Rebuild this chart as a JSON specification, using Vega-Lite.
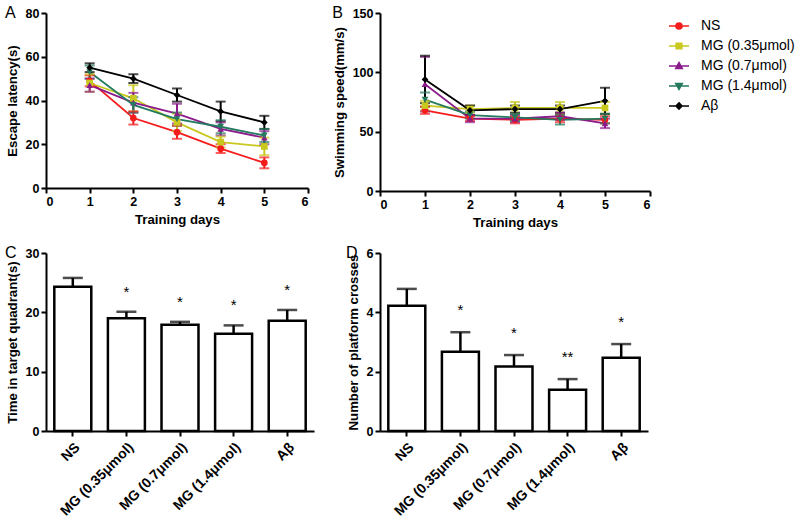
{
  "$schema": "https://vega.github.io/schema/vega-lite/v6.json",
  "background": "white",
  "padding": {"left": 5, "top": 5, "right": 5, "bottom": 5},
  "datasets": {
    "lat": [
      {"group": "NS", "day": 1, "mean": 49, "sem": 2.5},
      {"group": "NS", "day": 2, "mean": 32, "sem": 3},
      {"group": "NS", "day": 3, "mean": 25.5, "sem": 3},
      {"group": "NS", "day": 4, "mean": 18, "sem": 2},
      {"group": "NS", "day": 5, "mean": 11.5, "sem": 2.5},
      {"group": "MG (0.35μmol)", "day": 1, "mean": 48, "sem": 4},
      {"group": "MG (0.35μmol)", "day": 2, "mean": 41, "sem": 6},
      {"group": "MG (0.35μmol)", "day": 3, "mean": 30, "sem": 4},
      {"group": "MG (0.35μmol)", "day": 4, "mean": 21, "sem": 2.5},
      {"group": "MG (0.35μmol)", "day": 5, "mean": 19, "sem": 4},
      {"group": "MG (0.7μmol)", "day": 1, "mean": 47, "sem": 3},
      {"group": "MG (0.7μmol)", "day": 2, "mean": 39, "sem": 4.5},
      {"group": "MG (0.7μmol)", "day": 3, "mean": 34, "sem": 4.5},
      {"group": "MG (0.7μmol)", "day": 4, "mean": 27, "sem": 3},
      {"group": "MG (0.7μmol)", "day": 5, "mean": 23, "sem": 3},
      {"group": "MG (1.4μmol)", "day": 1, "mean": 53, "sem": 3},
      {"group": "MG (1.4μmol)", "day": 2, "mean": 38, "sem": 3.5},
      {"group": "MG (1.4μmol)", "day": 3, "mean": 31.5, "sem": 3},
      {"group": "MG (1.4μmol)", "day": 4, "mean": 28, "sem": 3},
      {"group": "MG (1.4μmol)", "day": 5, "mean": 24, "sem": 3},
      {"group": "Aβ", "day": 1, "mean": 55, "sem": 2},
      {"group": "Aβ", "day": 2, "mean": 50, "sem": 2},
      {"group": "Aβ", "day": 3, "mean": 42.5, "sem": 3},
      {"group": "Aβ", "day": 4, "mean": 35, "sem": 4.5},
      {"group": "Aβ", "day": 5, "mean": 30, "sem": 3}
    ],
    "spd": [
      {"group": "NS", "day": 1, "mean": 68, "sem": 3},
      {"group": "NS", "day": 2, "mean": 61, "sem": 2},
      {"group": "NS", "day": 3, "mean": 60, "sem": 3},
      {"group": "NS", "day": 4, "mean": 61, "sem": 3},
      {"group": "NS", "day": 5, "mean": 60, "sem": 3},
      {"group": "MG (0.35μmol)", "day": 1, "mean": 72, "sem": 4},
      {"group": "MG (0.35μmol)", "day": 2, "mean": 69, "sem": 3},
      {"group": "MG (0.35μmol)", "day": 3, "mean": 70, "sem": 5},
      {"group": "MG (0.35μmol)", "day": 4, "mean": 70, "sem": 5},
      {"group": "MG (0.35μmol)", "day": 5, "mean": 70, "sem": 5},
      {"group": "MG (0.7μmol)", "day": 1, "mean": 90, "sem": 23},
      {"group": "MG (0.7μmol)", "day": 2, "mean": 61, "sem": 3},
      {"group": "MG (0.7μmol)", "day": 3, "mean": 61, "sem": 3},
      {"group": "MG (0.7μmol)", "day": 4, "mean": 63, "sem": 3},
      {"group": "MG (0.7μmol)", "day": 5, "mean": 57, "sem": 4},
      {"group": "MG (1.4μmol)", "day": 1, "mean": 77, "sem": 6},
      {"group": "MG (1.4μmol)", "day": 2, "mean": 64, "sem": 3},
      {"group": "MG (1.4μmol)", "day": 3, "mean": 62, "sem": 3},
      {"group": "MG (1.4μmol)", "day": 4, "mean": 60, "sem": 4},
      {"group": "MG (1.4μmol)", "day": 5, "mean": 61, "sem": 4},
      {"group": "Aβ", "day": 1, "mean": 94, "sem": 20},
      {"group": "Aβ", "day": 2, "mean": 68, "sem": 4},
      {"group": "Aβ", "day": 3, "mean": 69, "sem": 3},
      {"group": "Aβ", "day": 4, "mean": 69, "sem": 3},
      {"group": "Aβ", "day": 5, "mean": 76, "sem": 11}
    ],
    "time": [
      {"group": "NS", "mean": 24.3, "sem": 1.5, "sig": ""},
      {"group": "MG (0.35μmol)", "mean": 19.0, "sem": 1.1, "sig": "*"},
      {"group": "MG (0.7μmol)", "mean": 17.9, "sem": 0.5, "sig": "*"},
      {"group": "MG (1.4μmol)", "mean": 16.4, "sem": 1.4, "sig": "*"},
      {"group": "Aβ", "mean": 18.6, "sem": 1.8, "sig": "*"}
    ],
    "cross": [
      {"group": "NS", "mean": 4.22, "sem": 0.57, "sig": ""},
      {"group": "MG (0.35μmol)", "mean": 2.67, "sem": 0.66, "sig": "*"},
      {"group": "MG (0.7μmol)", "mean": 2.17, "sem": 0.39, "sig": "*"},
      {"group": "MG (1.4μmol)", "mean": 1.39, "sem": 0.36, "sig": "**"},
      {"group": "Aβ", "mean": 2.47, "sem": 0.46, "sig": "*"}
    ]
  },
  "columns": 2,
  "bounds": "flush",
  "spacing": {"column": 66, "row": 62},
  "concat": [
    {
      "width": 262, "height": 175,
      "title": {"text": "A"},
      "data": {"name": "lat"},
      "transform": [
        {"calculate": "datum.mean - datum.sem", "as": "lo"},
        {"calculate": "datum.mean + datum.sem", "as": "hi"},
        {"calculate": "'m_' + datum.group", "as": "marker"}
      ],
      "encoding": {
        "x": {"field": "day", "type": "quantitative", "scale": {"domain": [0, 6], "nice": false},
              "axis": {"values": [0, 1, 2, 3, 4, 5, 6], "format": "d", "title": "Training days"}},
        "color": {"field": "group", "type": "nominal",
                  "scale": {"domain": ["NS", "MG (0.35μmol)", "MG (0.7μmol)", "MG (1.4μmol)", "Aβ"],
                            "range": ["#f51c1c", "#c8c81e", "#8b1a8b", "#247a5e", "#000000"]},
                  "legend": {
                    "orient": "none", "legendX": 622, "legendY": 2, "title": null,
                    "labelFont": "Liberation Sans", "labelFontSize": 14, "labelColor": "black",
                    "symbolSize": 400, "symbolStrokeWidth": 1.6, "rowPadding": 2, "labelOffset": 11,
                    "encode": {"symbols": {"update": {
                      "shape": {"signal": "datum.value === 'NS' ? 'M-1,0H1M0.3,0A0.3,0.3,0,1,1,-0.3,0A0.3,0.3,0,1,1,0.3,0Z' : datum.value === 'MG (0.35μmol)' ? 'M-1,0H1M-0.28,-0.28H0.28V0.28H-0.28Z' : datum.value === 'MG (0.7μmol)' ? 'M-1,0H1M0,-0.34L0.32,0.24H-0.32Z' : datum.value === 'MG (1.4μmol)' ? 'M-1,0H1M0,0.34L0.32,-0.24H-0.32Z' : 'M-1,0H1M0,-0.32L0.3,0L0,0.32L-0.3,0Z'"},
                      "fill": {"scale": "color", "field": "value"},
                      "stroke": {"scale": "color", "field": "value"},
                      "strokeWidth": {"value": 1.6},
                      "opacity": {"value": 1}
                    }}}
                  }}
      },
      "layer": [
        {"mark": {"type": "line", "strokeWidth": 1.8},
         "encoding": {"y": {"field": "mean", "type": "quantitative", "scale": {"domain": [0, 80], "nice": false},
                            "axis": {"values": [0, 20, 40, 60, 80], "title": "Escape latency(s)"}}}},
        {"mark": {"type": "rule", "strokeWidth": 2},
         "encoding": {"y": {"field": "lo", "type": "quantitative"}, "y2": {"field": "hi"}}},
        {"mark": {"type": "tick", "orient": "horizontal", "size": 10, "thickness": 2},
         "encoding": {"y": {"field": "lo", "type": "quantitative"}}},
        {"mark": {"type": "tick", "orient": "horizontal", "size": 10, "thickness": 2},
         "encoding": {"y": {"field": "hi", "type": "quantitative"}}},
        {"mark": {"type": "point", "filled": true, "size": 45, "opacity": 1},
         "encoding": {"y": {"field": "mean", "type": "quantitative"},
                      "shape": {"field": "marker", "type": "nominal",
                                "scale": {"domain": ["m_NS", "m_MG (0.35μmol)", "m_MG (0.7μmol)", "m_MG (1.4μmol)", "m_Aβ"],
                                          "range": ["circle", "square", "triangle-up", "triangle-down", "diamond"]},
                                "legend": null}}}
      ]
    },
    {
      "width": 270, "height": 178,
      "title": {"text": "B"},
      "data": {"name": "spd"},
      "transform": [
        {"calculate": "datum.mean - datum.sem", "as": "lo"},
        {"calculate": "datum.mean + datum.sem", "as": "hi"},
        {"calculate": "'m_' + datum.group", "as": "marker"}
      ],
      "encoding": {
        "x": {"field": "day", "type": "quantitative", "scale": {"domain": [0, 6], "nice": false},
              "axis": {"values": [0, 1, 2, 3, 4, 5, 6], "format": "d", "title": "Training days"}},
        "color": {"field": "group", "type": "nominal",
                  "scale": {"domain": ["NS", "MG (0.35μmol)", "MG (0.7μmol)", "MG (1.4μmol)", "Aβ"],
                            "range": ["#f51c1c", "#c8c81e", "#8b1a8b", "#247a5e", "#000000"]},
                  "legend": {
                    "orient": "none", "legendX": 622, "legendY": 2, "title": null,
                    "labelFont": "Liberation Sans", "labelFontSize": 14, "labelColor": "black",
                    "symbolSize": 400, "symbolStrokeWidth": 1.6, "rowPadding": 2, "labelOffset": 11,
                    "encode": {"symbols": {"update": {
                      "shape": {"signal": "datum.value === 'NS' ? 'M-1,0H1M0.3,0A0.3,0.3,0,1,1,-0.3,0A0.3,0.3,0,1,1,0.3,0Z' : datum.value === 'MG (0.35μmol)' ? 'M-1,0H1M-0.28,-0.28H0.28V0.28H-0.28Z' : datum.value === 'MG (0.7μmol)' ? 'M-1,0H1M0,-0.34L0.32,0.24H-0.32Z' : datum.value === 'MG (1.4μmol)' ? 'M-1,0H1M0,0.34L0.32,-0.24H-0.32Z' : 'M-1,0H1M0,-0.32L0.3,0L0,0.32L-0.3,0Z'"},
                      "fill": {"scale": "color", "field": "value"},
                      "stroke": {"scale": "color", "field": "value"},
                      "strokeWidth": {"value": 1.6},
                      "opacity": {"value": 1}
                    }}}
                  }}
      },
      "layer": [
        {"mark": {"type": "line", "strokeWidth": 1.8},
         "encoding": {"y": {"field": "mean", "type": "quantitative", "scale": {"domain": [0, 150], "nice": false},
                            "axis": {"values": [0, 50, 100, 150], "title": "Swimming speed(mm/s)"}}}},
        {"mark": {"type": "rule", "strokeWidth": 2},
         "encoding": {"y": {"field": "lo", "type": "quantitative"}, "y2": {"field": "hi"}}},
        {"mark": {"type": "tick", "orient": "horizontal", "size": 10, "thickness": 2},
         "encoding": {"y": {"field": "lo", "type": "quantitative"}}},
        {"mark": {"type": "tick", "orient": "horizontal", "size": 10, "thickness": 2},
         "encoding": {"y": {"field": "hi", "type": "quantitative"}}},
        {"mark": {"type": "point", "filled": true, "size": 45, "opacity": 1},
         "encoding": {"y": {"field": "mean", "type": "quantitative"},
                      "shape": {"field": "marker", "type": "nominal",
                                "scale": {"domain": ["m_NS", "m_MG (0.35μmol)", "m_MG (0.7μmol)", "m_MG (1.4μmol)", "m_Aβ"],
                                          "range": ["circle", "square", "triangle-up", "triangle-down", "diamond"]},
                                "legend": null}}}
      ]
    },
    {
      "width": 268, "height": 178,
      "title": {"text": "C"},
      "data": {"name": "time"},
      "transform": [{"calculate": "datum.mean + datum.sem", "as": "hi"}],
      "encoding": {
        "x": {"field": "group", "type": "nominal", "sort": null,
              "scale": {"paddingInner": 0.31, "paddingOuter": 0.155},
              "axis": {"title": null, "labelAngle": -45, "labelFontSize": 14, "labelPadding": 4}}
      },
      "layer": [
        {"mark": {"type": "bar", "fill": "white", "stroke": "black", "strokeWidth": 2.5},
         "encoding": {"y": {"field": "mean", "type": "quantitative", "scale": {"domain": [0, 30], "nice": false},
                            "axis": {"values": [0, 10, 20, 30], "title": "Time in target quadrant(s)"}}}},
        {"mark": {"type": "rule", "strokeWidth": 2.5, "color": "black"},
         "encoding": {"y": {"field": "mean", "type": "quantitative"}, "y2": {"field": "hi"}}},
        {"mark": {"type": "tick", "orient": "horizontal", "size": 20, "thickness": 2.5, "color": "black"},
         "encoding": {"y": {"field": "hi", "type": "quantitative"}}},
        {"mark": {"type": "text", "dy": -20, "fontSize": 15, "font": "Liberation Sans", "fill": "black"},
         "encoding": {"y": {"field": "hi", "type": "quantitative"}, "text": {"field": "sig"}}}
      ]
    },
    {
      "width": 268, "height": 178,
      "title": {"text": "D"},
      "data": {"name": "cross"},
      "transform": [{"calculate": "datum.mean + datum.sem", "as": "hi"}],
      "encoding": {
        "x": {"field": "group", "type": "nominal", "sort": null,
              "scale": {"paddingInner": 0.31, "paddingOuter": 0.155},
              "axis": {"title": null, "labelAngle": -45, "labelFontSize": 14, "labelPadding": 4}}
      },
      "layer": [
        {"mark": {"type": "bar", "fill": "white", "stroke": "black", "strokeWidth": 2.5},
         "encoding": {"y": {"field": "mean", "type": "quantitative", "scale": {"domain": [0, 6], "nice": false},
                            "axis": {"values": [0, 2, 4, 6], "title": "Number of platform crosses"}}}},
        {"mark": {"type": "rule", "strokeWidth": 2.5, "color": "black"},
         "encoding": {"y": {"field": "mean", "type": "quantitative"}, "y2": {"field": "hi"}}},
        {"mark": {"type": "tick", "orient": "horizontal", "size": 20, "thickness": 2.5, "color": "black"},
         "encoding": {"y": {"field": "hi", "type": "quantitative"}}},
        {"mark": {"type": "text", "dy": -22, "fontSize": 15, "font": "Liberation Sans", "fill": "black"},
         "encoding": {"y": {"field": "hi", "type": "quantitative"}, "text": {"field": "sig"}}}
      ]
    }
  ],
  "config": {
    "view": {"stroke": null},
    "font": "Liberation Sans",
    "title": {"anchor": "start", "frame": "bounds", "fontSize": 16, "fontWeight": "normal", "font": "Liberation Sans", "color": "black", "offset": 0, "dy": 18},
    "axis": {
      "grid": false, "domainColor": "black", "domainWidth": 2, "tickColor": "black", "tickWidth": 2, "tickSize": 5,
      "labelFont": "Liberation Sans", "labelFontWeight": "bold", "labelFontSize": 12.5, "labelColor": "black", "labelPadding": 2,
      "titleFont": "Liberation Sans", "titleFontWeight": "bold", "titleFontSize": 13.2, "titleColor": "black", "titlePadding": 6
    }
  }
}
